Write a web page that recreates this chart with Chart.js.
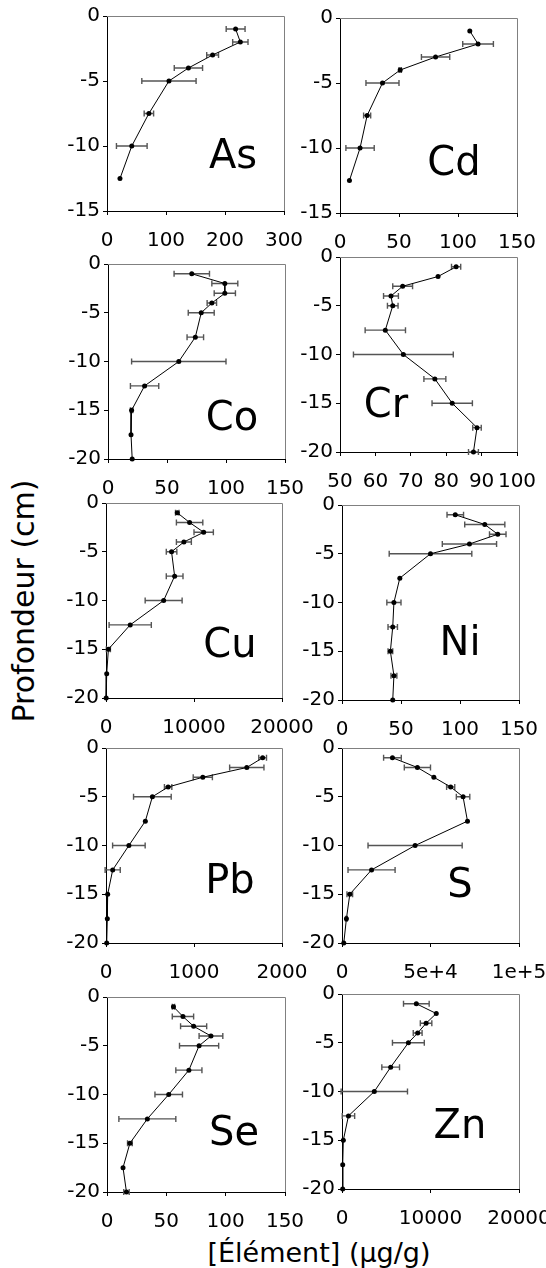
<!DOCTYPE html>
<html>
<head>
<meta charset="utf-8">
<script src="https://cdn.jsdelivr.net/npm/chart.js@4.4.1/dist/chart.umd.min.js"></script>
<style>
  body { margin: 0; width: 546px; height: 1268px; overflow: hidden; background: #fff; position: relative; font-family: "DejaVu Sans", sans-serif; color: #000; }
  canvas { position: absolute; }
  .el { position: absolute; font-size: 40px; line-height: 40px; transform: translateX(-50%); white-space: nowrap; }
  #ytitle { position: absolute; font-size: 30px; left: 23px; top: 601px; transform: translate(-50%, -50%) rotate(-90deg); white-space: nowrap; }
  #xtitle { position: absolute; font-size: 27px; left: 319px; top: 1252px; transform: translate(-50%, -50%); white-space: nowrap; }
</style>
</head>
<body>
<div id="ytitle">Profondeur (cm)</div>
<div id="xtitle">[Élément] (µg/g)</div>
<script>
// depths of the core slices (cm)
const depths = [-1, -2, -3, -4, -5, -7.5, -10, -12.5, -15, -17.5, -20];

// concentrations (µg/g) and half error bars, one pair per element
const asVals = [218, 226, 179, 138, 105, 71, 42, 22];
const asErr  = [16, 13, 10, 24, 46, 8, 26, 0];
const cdVals = [110, 117, 81, 51, 36, 23, 17, 8];
const cdErr  = [0, 13, 12, 1, 14, 3, 12, 0];
const coVals = [71, 99, 99, 88, 79, 74, 60, 31, 20, 19.5, 20.5];
const coErr  = [15, 11, 9, 4, 11, 7, 40, 12, 1, 0, 0];
const crVals = [82.8, 77.7, 67.7, 64.4, 64.9, 62.8, 67.9, 76.8, 81.7, 88.7, 87.7];
const crErr  = [1.3, 0, 2.8, 2.1, 1.5, 5.7, 14.1, 3.1, 5.7, 1.2, 1.4];
const cuVals = [8100, 9500, 11100, 8850, 7450, 7800, 6550, 2750, 270, 80, 20];
const cuErr  = [200, 1500, 1100, 850, 600, 950, 2100, 2400, 230, 0, 0];
const niVals = [96, 121, 132, 108, 75, 49, 44, 43, 41, 44, 43];
const niErr  = [7, 17, 7, 23, 35, 0, 6, 4, 2, 2.5, 0];
const pbVals = [1780, 1600, 1100, 706, 527, 447, 260, 76, 19, 15, 8];
const pbErr  = [44, 195, 109, 42, 214, 0, 185, 86, 0, 0, 0];
const sVals  = [28500, 42600, 51900, 61400, 68400, 70900, 41300, 16700, 4400, 2500, 1000];
const sErr   = [5000, 7400, 0, 2300, 3800, 0, 26600, 13300, 1600, 500, 0];
const seVals = [56, 64, 73, 87.6, 77.6, 69, 52, 34, 19.3, 13.5, 16.4];
const seErr  = [1, 9, 11, 10, 16.5, 11, 11.6, 24, 2, 0, 2.3];
const znVals = [8400, 10650, 9500, 8550, 7500, 5500, 3650, 730, 150, 80, 80];
const znErr  = [1450, 0, 650, 500, 1800, 1000, 3750, 700, 0, 0, 0];

// tick labels that are not plain numbers
const sTickLabels = ["0", "5e+4", "1e+5"];

const panels = [
  { name: "As", vals: asVals, errs: asErr, xMin: 0,  xMax: 300,    xStep: 100,   yMin: -15 },
  { name: "Cd", vals: cdVals, errs: cdErr, xMin: 0,  xMax: 150,    xStep: 50,    yMin: -15 },
  { name: "Co", vals: coVals, errs: coErr, xMin: 0,  xMax: 150,    xStep: 50,    yMin: -20 },
  { name: "Cr", vals: crVals, errs: crErr, xMin: 50, xMax: 100,    xStep: 10,    yMin: -20 },
  { name: "Cu", vals: cuVals, errs: cuErr, xMin: 0,  xMax: 20000,  xStep: 10000, yMin: -20 },
  { name: "Ni", vals: niVals, errs: niErr, xMin: 0,  xMax: 150,    xStep: 50,    yMin: -20 },
  { name: "Pb", vals: pbVals, errs: pbErr, xMin: 0,  xMax: 2000,   xStep: 1000,  yMin: -20 },
  { name: "S",  vals: sVals,  errs: sErr,  xMin: 0,  xMax: 100000, xStep: 50000, yMin: -20, labels: sTickLabels },
  { name: "Se", vals: seVals, errs: seErr, xMin: 0,  xMax: 150,    xStep: 50,    yMin: -20 },
  { name: "Zn", vals: znVals, errs: znErr, xMin: 0,  xMax: 20000,  xStep: 10000, yMin: -20 }
];

// page placement of each plot box and of its element label
const boxes = {
  As: { left: 107, top: 16,  w: 177, h: 195, lx: 233, ly: 168 },
  Cd: { left: 340, top: 18,  w: 177, h: 195, lx: 454, ly: 175 },
  Co: { left: 108, top: 264, w: 177, h: 195, lx: 232, ly: 430 },
  Cr: { left: 340, top: 257, w: 177, h: 195, lx: 386, ly: 417 },
  Cu: { left: 106, top: 503, w: 176, h: 195, lx: 230, ly: 657 },
  Ni: { left: 342, top: 505, w: 177, h: 195, lx: 460, ly: 655 },
  Pb: { left: 106, top: 748, w: 176, h: 195, lx: 230, ly: 893 },
  S:  { left: 342, top: 748, w: 177, h: 195, lx: 460, ly: 897 },
  Se: { left: 107, top: 997, w: 178, h: 195, lx: 234, ly: 1145 },
  Zn: { left: 342, top: 994, w: 177, h: 195, lx: 460, ly: 1138 }
};

const Y_W = 56, P_T = 14, P_R = 36, X_H = 46;

Chart.defaults.font.family = "'DejaVu Sans', sans-serif";
Chart.defaults.font.size = 20;
Chart.defaults.color = "#000";

// grey top and right edges of the plot box
const frame = {
  id: "frame",
  beforeDatasetsDraw(chart) {
    const { ctx, chartArea: a } = chart;
    ctx.save();
    ctx.strokeStyle = "#808080";
    ctx.lineWidth = 1;
    ctx.beginPath();
    ctx.moveTo(a.left, a.top + 0.5);
    ctx.lineTo(a.right + 0.5, a.top + 0.5);
    ctx.lineTo(a.right + 0.5, a.bottom);
    ctx.stroke();
    ctx.restore();
  }
};

// horizontal error bars with small caps
const errBars = {
  id: "errBars",
  beforeDatasetsDraw(chart) {
    const { ctx } = chart;
    const xs = chart.scales.x, ys = chart.scales.y;
    ctx.save();
    ctx.strokeStyle = "#555";
    ctx.lineWidth = 1.4;
    chart.data.datasets[0].data.forEach(pt => {
      if (!pt.e) return;
      const x1 = xs.getPixelForValue(pt.x - pt.e);
      const x2 = xs.getPixelForValue(pt.x + pt.e);
      const y = ys.getPixelForValue(pt.y);
      ctx.beginPath();
      ctx.moveTo(x1, y); ctx.lineTo(x2, y);
      ctx.moveTo(x1, y - 3); ctx.lineTo(x1, y + 3);
      ctx.moveTo(x2, y - 3); ctx.lineTo(x2, y + 3);
      ctx.stroke();
    });
    ctx.restore();
  }
};

function makePanel(p) {
  const g = boxes[p.name];
  const cv = document.createElement("canvas");
  cv.width = Y_W + g.w + P_R;
  cv.height = P_T + g.h + X_H;
  cv.style.left = (g.left - Y_W) + "px";
  cv.style.top = (g.top - P_T) + "px";
  document.body.appendChild(cv);

  const lbl = document.createElement("div");
  lbl.className = "el";
  lbl.textContent = p.name;
  lbl.style.left = g.lx + "px";
  lbl.style.top = (g.ly - 34) + "px";
  document.body.appendChild(lbl);

  const pts = p.vals.map((v, i) => ({ x: v, y: depths[i], e: p.errs[i] }));

  new Chart(cv, {
    type: "scatter",
    data: {
      datasets: [{
        data: pts,
        showLine: true,
        borderColor: "#000",
        borderWidth: 1,
        pointRadius: 2.5,
        pointBackgroundColor: "#000",
        pointBorderWidth: 0,
        clip: false
      }]
    },
    options: {
      responsive: false,
      animation: false,
      devicePixelRatio: 1,
      layout: { padding: { top: P_T, right: P_R, left: 0, bottom: 0 } },
      plugins: { legend: { display: false }, tooltip: { enabled: false } },
      scales: {
        x: {
          type: "linear",
          min: p.xMin, max: p.xMax,
          ticks: {
            stepSize: p.xStep, padding: 14, maxRotation: 0, autoSkip: false,
            callback: (v, i) => p.labels ? p.labels[i] : String(v)
          },
          grid: { drawOnChartArea: false, tickLength: 4, color: "#000" },
          border: { color: "#000", width: 1 },
          afterFit: s => { s.height = X_H; s.paddingLeft = 0; s.paddingRight = 0; }
        },
        y: {
          type: "linear",
          min: p.yMin, max: 0,
          ticks: { stepSize: 5, padding: 3, callback: v => String(v) },
          grid: { drawOnChartArea: false, tickLength: 4, color: "#000" },
          border: { color: "#000", width: 1 },
          afterFit: s => { s.width = Y_W; s.paddingTop = 0; s.paddingBottom = 0; }
        }
      }
    },
    plugins: [frame, errBars]
  });
}

panels.forEach(makePanel);
</script>
</body>
</html>
